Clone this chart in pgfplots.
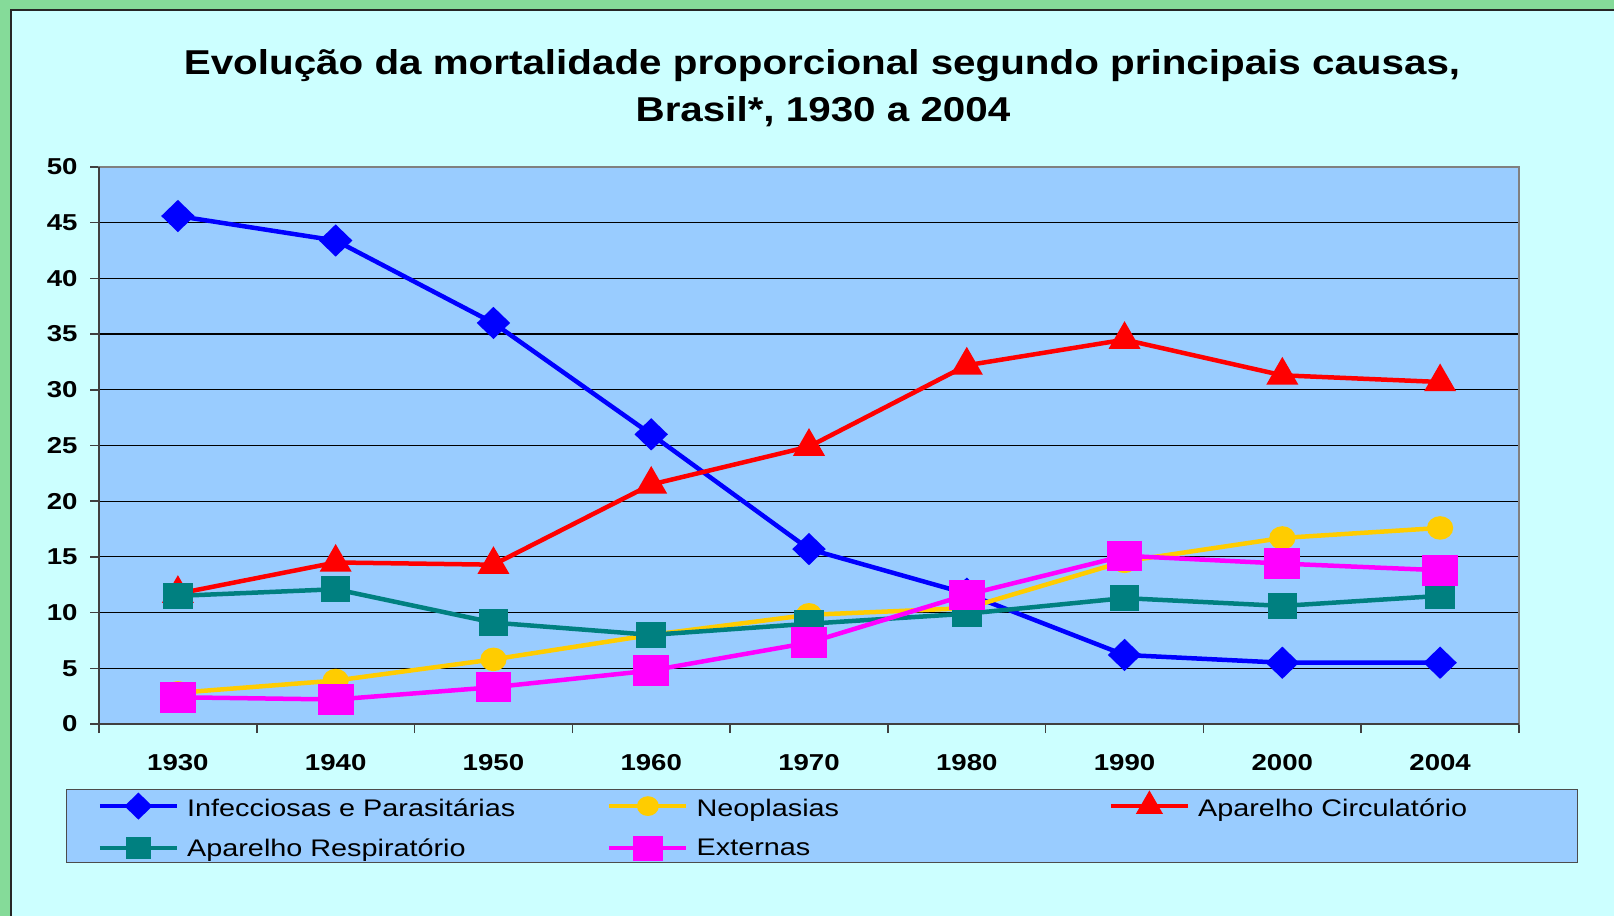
\documentclass[border=0pt]{standalone}
\usepackage{fontspec}
\setmainfont{Liberation Sans}[FakeStretch=1.2]
\newfontfamily\titlefont{Liberation Sans}[FakeStretch=1.17]
\usepackage{pgfplots}
\pgfplotsset{compat=1.18}
\definecolor{frame}{HTML}{85DB99}
\definecolor{page}{HTML}{CCFFFF}
\definecolor{plotbg}{HTML}{99CCFF}
\definecolor{infec}{HTML}{0000FF}
\definecolor{neo}{HTML}{FFCC00}
\definecolor{circ}{HTML}{FF0000}
\definecolor{resp}{HTML}{008080}
\definecolor{ext}{HTML}{FF00FF}

% x = 0..8 stand for 1930, 1940, ..., 2000, 2004
\pgfplotstableread{
x infec neo  circ resp ext
0 45.6  2.8  11.7 11.5 2.4
1 43.4  3.9  14.5 12.1 2.2
2 36.0  5.8  14.3  9.1 3.3
3 26.0  8.0  21.5  8.0 4.8
4 15.7  9.8  24.9  9.0 7.3
5 11.7 10.4  32.2  9.9 11.6
6  6.2 14.6  34.5 11.3 15.1
7  5.5 16.7  31.3 10.6 14.4
8  5.5 17.6  30.7 11.5 13.8
}\mortdata

% legend text: width, strut depth, strut total height, text
\newcommand{\legtext}[4]{\makebox[#1][l]{\hspace*{6pt}\rule[-#2]{0pt}{#3}#4}}
\newcommand{\rowone}[2]{\legtext{#1}{8pt}{29.5pt}{#2}}
\newcommand{\rowtwo}[2]{\legtext{#1}{32.5pt}{42.5pt}{#2}}

\begin{document}
\begin{tikzpicture}
\useasboundingbox (0pt,0pt) rectangle (1614pt,916pt);
\fill[frame] (0pt,0pt) rectangle (1614pt,916pt);
\fill[page] (11pt,0pt) rectangle (1614pt,906pt);
\draw[line width=2pt, black!85] (11pt,0pt) -- (11pt,906pt) -- (1614pt,906pt);

\node[anchor=base, font=\titlefont\bfseries\fontsize{34.5}{40}\selectfont] at (822pt,841.7pt)
  {Evolução da mortalidade proporcional segundo principais causas,};
\node[anchor=base, font=\titlefont\bfseries\fontsize{34.5}{40}\selectfont] at (823pt,794.4pt)
  {Brasil*, 1930 a 2004};

\begin{axis}[
  at={(99pt,192pt)}, anchor=south west,
  scale only axis, width=1420pt, height=557pt,
  xmin=-0.5, xmax=8.5, ymin=0, ymax=50,
  xtick={0,...,8},
  xticklabels={1930,1940,1950,1960,1970,1980,1990,2000,2004},
  minor xtick={-0.5,0.5,...,8.5},
  ytick={0,5,...,50},
  tick pos=left,
  ymajorgrids,
  grid style={black, line width=1.2pt},
  axis background/.style={fill=plotbg},
  axis line style={draw=gray, line width=2pt},
  tick align=outside,
  major tick length=9pt, minor tick length=9pt,
  tick style={black!75, line width=1.5pt},
  major x tick style={draw=none},
  ticklabel style={font=\bfseries\fontsize{23}{23}\selectfont},
  /pgf/number format/assume math mode=true,
  xticklabel style={yshift=-18pt},
  yticklabel style={xshift=-9pt},
  clip=false,
  legend columns=3,
  legend cell align=left,
  legend style={
    at={(-0.0232,-0.1167)}, anchor=north west,
    fill=plotbg, draw=black!70, line width=1.2pt,
    font=\fontsize{24}{28}\selectfont,
    inner xsep=31pt, inner ysep=3pt,
    /tikz/row sep=17pt,
  },
  legend image code/.code={
    \draw[mark repeat=2, mark phase=2, #1, every mark/.append style={scale=0.8}]
      plot coordinates {(0pt,0pt) (38.5pt,0pt) (77pt,0pt)};
  },
  every axis plot/.append style={line width=4.5pt},
]
\addplot[infec, mark=diamond*, mark size=13pt, mark options={solid, xscale=1.38}]
  table[x=x, y=infec] {\mortdata};
\addlegendentry{\rowone{424pt}{Infecciosas e Parasitárias}}
\addplot[neo, mark=*, mark size=9.5pt, mark options={solid, xscale=1.14}]
  table[x=x, y=neo] {\mortdata};
\addlegendentry{\rowone{416pt}{Neoplasias}}
\addplot[circ, mark=triangle*, mark size=14pt, mark options={solid}]
  table[x=x, y=circ] {\mortdata};
\addlegendentry{\rowone{352pt}{Aparelho Circulatório}}
\addplot[resp, mark=square*, mark size=11pt, mark options={solid, xscale=1.14}]
  table[x=x, y=resp] {\mortdata};
\addlegendentry{\rowtwo{424pt}{Aparelho Respiratório}}
\addplot[ext, mark=square*, mark size=13pt, mark options={solid, xscale=1.2}]
  table[x=x, y=ext] {\mortdata};
\addlegendentry{\rowtwo{416pt}{Externas}}
\end{axis}
\draw[line width=2pt, black!75] (99pt,749pt) -- (99pt,192pt) -- (1519pt,192pt);
\end{tikzpicture}
\end{document}
